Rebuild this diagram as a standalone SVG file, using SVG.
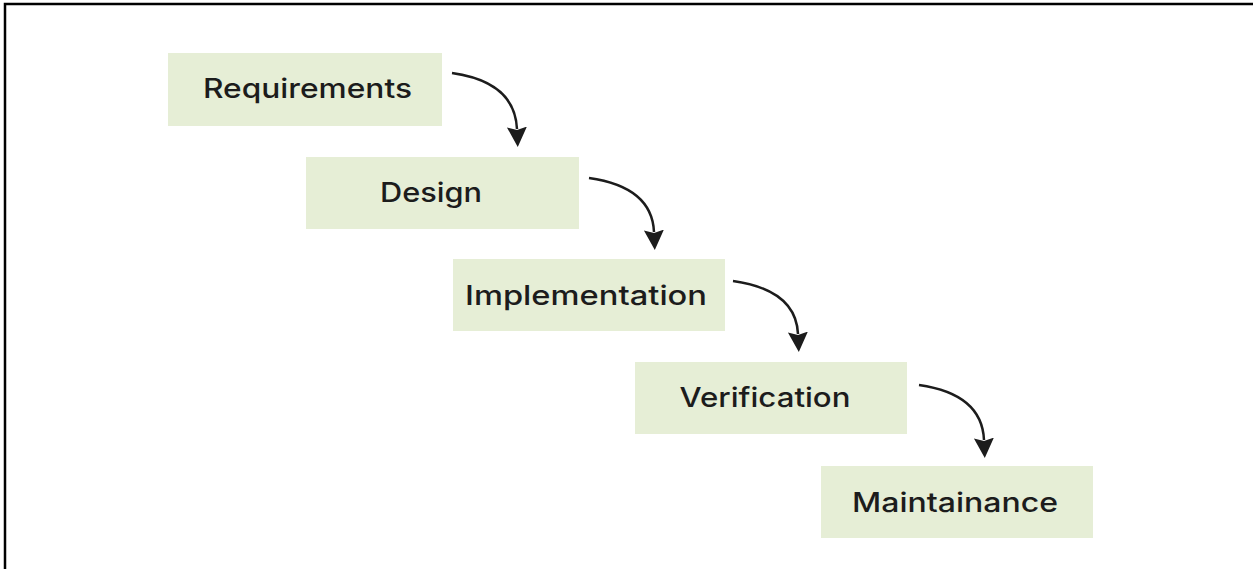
<svg xmlns="http://www.w3.org/2000/svg" width="1253" height="569" viewBox="0 0 1253 569">
<style>
.box{fill:#e6eed6;}
.lbl{font-family:Inter,"Liberation Sans",sans-serif;font-size:27px;font-weight:500;fill:#1c1c1c;text-anchor:middle;}
.arr{fill:none;stroke:#1c1c1c;stroke-width:2.5;marker-end:url(#ah);}
.frame{stroke:#000;stroke-width:2.5;fill:none;}
</style>
<defs>
<marker id="ah" markerUnits="userSpaceOnUse" markerWidth="22" markerHeight="22" viewBox="0 0 22 22" refX="2" refY="11" orient="auto">
<path d="M0,1 L20,11 L0,21 L3,11 z" fill="#1c1c1c"/>
</marker>
</defs>
<rect width="1253" height="569" fill="#fff"/>
<path class="frame" d="M5,569 L5,4 L1253,4"/>
<g id="requirements"><rect class="box" x="168" y="53" width="274" height="73"/><text class="lbl" x="307.5" y="98" textLength="209" lengthAdjust="spacingAndGlyphs">Requirements</text></g>
<g id="design"><rect class="box" x="306" y="157" width="273" height="72"/><text class="lbl" x="431" y="202" textLength="102" lengthAdjust="spacingAndGlyphs">Design</text></g>
<g id="implementation"><rect class="box" x="453" y="259" width="272" height="72"/><text class="lbl" x="586" y="305" textLength="242" lengthAdjust="spacingAndGlyphs">Implementation</text></g>
<g id="verification"><rect class="box" x="635" y="362" width="272" height="72"/><text class="lbl" x="765" y="407" textLength="171" lengthAdjust="spacingAndGlyphs">Verification</text></g>
<g id="maintainance"><rect class="box" x="821" y="466" width="272" height="72"/><text class="lbl" x="955" y="512" textLength="206" lengthAdjust="spacingAndGlyphs">Maintainance</text></g>
<g id="connectors">
<path class="arr" d="M452,73 Q515,82 517,129"/>
<path class="arr" d="M589,178 Q652,187 654,232"/>
<path class="arr" d="M733,281 Q796,290 798,334"/>
<path class="arr" d="M919,385 Q982,394 984,440"/>
</g>
</svg>
